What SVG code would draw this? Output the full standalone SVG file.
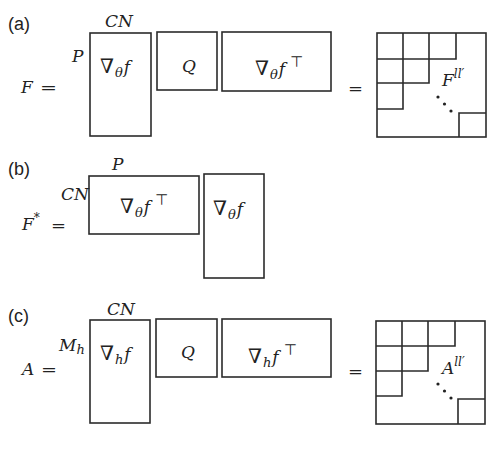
<svg xmlns="http://www.w3.org/2000/svg" width="498" height="453" viewBox="0 0 498 453">
<style>
.box{fill:none;stroke:#2b2b2b;stroke-width:1.6}
.grid{fill:none;stroke:#2b2b2b;stroke-width:1.6}
.lbl{font-family:"Liberation Sans","Open Sans",sans-serif;font-size:18px;fill:#222}
.m{font-family:"DejaVu Serif","Liberation Serif",serif;font-style:italic;font-size:17px;fill:#222}
.up{font-style:normal}
.nb{font-style:normal;font-size:20px}
.sub{font-size:13px}
.sup{font-size:12px}
.tp{font-family:"DejaVu Sans","Liberation Sans",sans-serif;font-style:normal;font-size:15px}
.dot{fill:#222}
</style>
<rect width="498" height="453" fill="#fff"/>

<g id="row-a">
  <text class="lbl" x="8" y="30">(a)</text>
  <text class="m" x="21" y="93" font-size="18">F</text>
  <text class="m up" x="40" y="93" textLength="17" lengthAdjust="spacingAndGlyphs">=</text>
  <g id="a-grad">
    <rect class="box" x="90" y="33" width="61" height="103"/>
    <text class="m" x="105" y="27" font-size="16">CN</text>
    <text class="m" x="72" y="62">P</text>
    <text class="m" x="100" y="73"><tspan class="nb">∇</tspan><tspan class="sub" dx="1" dy="4">θ</tspan><tspan dx="1" dy="-4">f</tspan></text>
  </g>
  <g id="a-Q">
    <rect class="box" x="157" y="32" width="60" height="58"/>
    <text class="m" x="189" y="72" text-anchor="middle" font-size="19">Q</text>
  </g>
  <g id="a-gradT">
    <rect class="box" x="222" y="32" width="109" height="59"/>
    <text class="m" x="255" y="75"><tspan class="nb">∇</tspan><tspan class="sub" dx="1" dy="4">θ</tspan><tspan dx="1" dy="-4">f</tspan><tspan class="tp" dx="5" dy="-8">⊤</tspan></text>
  </g>
  <text class="m up" x="348" y="94" textLength="15" lengthAdjust="spacingAndGlyphs">=</text>
  <g id="a-block">
    <rect class="box" x="377" y="33" width="109" height="104"/>
    <path class="grid" d="M377,109 H403 V83 H429 V59 H456 V33 M403,33 V83 M429,33 V59 M377,59 H456 M377,83 H429 M459,137 V113 H486"/>
    <text class="m" x="442" y="86" font-size="17">F<tspan class="sup" dy="-8">ll′</tspan></text>
    <circle class="dot" cx="438" cy="97" r="1.6"/>
    <circle class="dot" cx="444.5" cy="104" r="1.6"/>
    <circle class="dot" cx="451" cy="111" r="1.6"/>
  </g>
</g>

<g id="row-b">
  <text class="lbl" x="8" y="175">(b)</text>
  <text class="m" x="22" y="230" font-size="18">F<tspan class="sup" dy="-8" font-style="normal">*</tspan></text>
  <text class="m up" x="51" y="231" textLength="15" lengthAdjust="spacingAndGlyphs">=</text>
  <g id="b-gradT">
    <rect class="box" x="89" y="176" width="110" height="58"/>
    <text class="m" x="112" y="170">P</text>
    <text class="m" x="61" y="200" font-size="16">CN</text>
    <text class="m" x="120" y="213"><tspan class="nb">∇</tspan><tspan class="sub" dx="1" dy="4">θ</tspan><tspan dx="1" dy="-4">f</tspan><tspan class="tp" dx="5" dy="-8">⊤</tspan></text>
  </g>
  <g id="b-grad">
    <rect class="box" x="204" y="174" width="60" height="104"/>
    <text class="m" x="213" y="215"><tspan class="nb">∇</tspan><tspan class="sub" dx="1" dy="4">θ</tspan><tspan dx="1" dy="-4">f</tspan></text>
  </g>
</g>

<g id="row-c">
  <text class="lbl" x="8" y="322">(c)</text>
  <text class="m" x="22" y="375" font-size="18">A</text>
  <text class="m up" x="41" y="375" textLength="16" lengthAdjust="spacingAndGlyphs">=</text>
  <g id="c-grad">
    <rect class="box" x="90" y="320" width="60" height="103"/>
    <text class="m" x="107" y="315" font-size="16">CN</text>
    <text class="m" x="59" y="351">M<tspan class="sub" dy="3">h</tspan></text>
    <text class="m" x="100" y="360"><tspan class="nb">∇</tspan><tspan class="sub" dx="1" dy="4">h</tspan><tspan dx="1" dy="-4">f</tspan></text>
  </g>
  <g id="c-Q">
    <rect class="box" x="156" y="319" width="61" height="58"/>
    <text class="m" x="188" y="358" text-anchor="middle" font-size="19">Q</text>
  </g>
  <g id="c-gradT">
    <rect class="box" x="222" y="319" width="109" height="58"/>
    <text class="m" x="248" y="363"><tspan class="nb">∇</tspan><tspan class="sub" dx="1" dy="4">h</tspan><tspan dx="1" dy="-4">f</tspan><tspan class="tp" dx="5" dy="-8">⊤</tspan></text>
  </g>
  <text class="m up" x="348" y="377" textLength="15" lengthAdjust="spacingAndGlyphs">=</text>
  <g id="c-block">
    <rect class="box" x="376" y="321" width="109" height="103"/>
    <path class="grid" d="M376,396 H402 V371 H428 V346 H455 V321 M402,321 V371 M428,321 V346 M376,346 H455 M376,371 H428 M458,424 V399 H485"/>
    <text class="m" x="442" y="374" font-size="17">A<tspan class="sup" dy="-8">ll′</tspan></text>
    <circle class="dot" cx="438" cy="384" r="1.6"/>
    <circle class="dot" cx="444.5" cy="391" r="1.6"/>
    <circle class="dot" cx="451" cy="398" r="1.6"/>
  </g>
</g>
</svg>
